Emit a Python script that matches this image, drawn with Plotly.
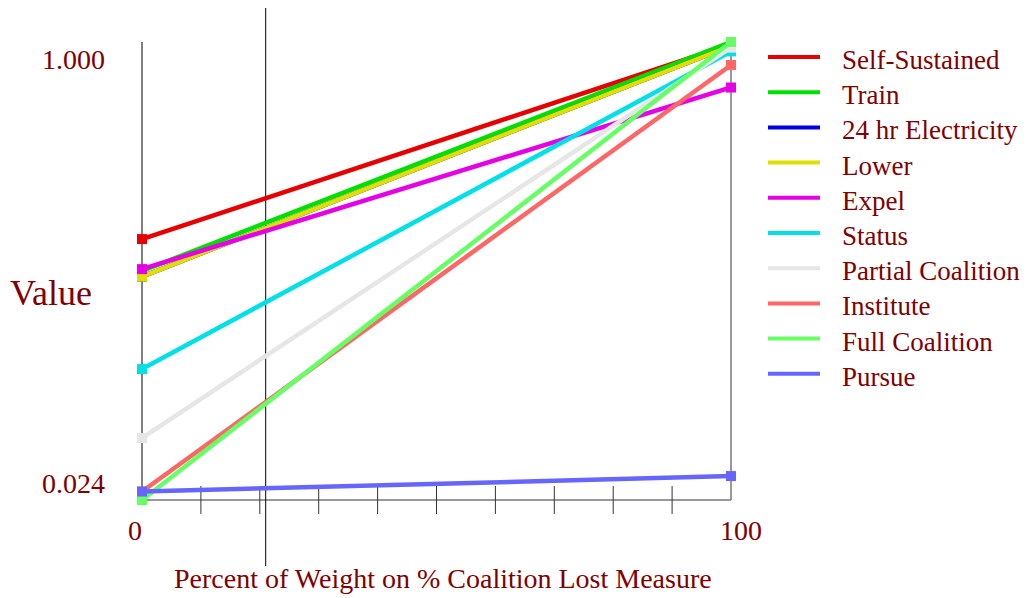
import plotly.graph_objects as go

# ---- data ----
series_names = ["Self-Sustained", "Train", "24 hr Electricity", "Lower", "Expel",
                "Status", "Partial Coalition", "Institute", "Full Coalition", "Pursue"]
x_values = [0, 100]
values_at_0 = [0.580, 0.512, 0.500, 0.500, 0.516, 0.303, 0.156, 0.042, 0.024, 0.042]
values_at_100 = [0.995, 1.000, 0.992, 0.992, 0.903, 0.980, 0.988, 0.951, 1.000, 0.075]
colors = ["#e60000", "#00e000", "#0000e6", "#e0e000", "#e600e6",
          "#00e0e6", "#e6e6e6", "#ff6666", "#66ff66", "#6666ff"]
y_tick_labels = ["1.000", "0.024"]
x_tick_labels = ["0", "100"]
x_minor_ticks = [10, 20, 30, 40, 50, 60, 70, 80, 90]
cursor_x = 21
y_min, y_max = 0.024, 1.000

# ---- layout geometry (page pixels) ----
W, H = 1030, 598
BODY = 8  # default body margin of the html page
L, R, T, B = 142, 731, 42, 500
TXT = "#800000"
FONT = "Liberation Serif"


def px(xp):
    return (xp - L) / (R - L)


def py(yp):
    return (B - yp) / (B - T)


fig = go.Figure()
for name, v0, v1, c in zip(series_names, values_at_0, values_at_100, colors):
    fig.add_trace(go.Scatter(
        x=x_values, y=[v0, v1], mode="lines+markers", name=name,
        line=dict(color=c, width=4.5),
        marker=dict(symbol="square", size=10, color=c),
        cliponaxis=False, showlegend=False,
    ))

shapes = []
shapes.append(dict(type="line", xref="paper", yref="paper", x0=0, x1=0, y0=0, y1=1,
                   line=dict(color="#000000", width=1), layer="below"))
shapes.append(dict(type="line", xref="paper", yref="paper", x0=0, x1=1, y0=0, y1=0,
                   line=dict(color="#777777", width=1.5), layer="below"))
shapes.append(dict(type="line", xref="paper", yref="paper", x0=1, x1=1, y0=0, y1=1,
                   line=dict(color="#777777", width=1.5), layer="below"))
for t in x_minor_ticks:
    shapes.append(dict(type="line", xref="x", yref="paper", x0=t, x1=t,
                       y0=py(486), y1=py(514),
                       line=dict(color="#333333", width=1), layer="below"))
shapes.append(dict(type="line", xref="x", yref="paper", x0=cursor_x, x1=cursor_x,
                   y0=py(8), y1=py(566), line=dict(color="#000000", width=1), layer="below"))

leg_y0, leg_dy = 57, 35.2
annotations = []
for i, (name, c) in enumerate(zip(series_names, colors)):
    yy = leg_y0 + i * leg_dy
    shapes.append(dict(type="line", xref="paper", yref="paper",
                       x0=px(768), x1=px(820), y0=py(yy), y1=py(yy),
                       line=dict(color=c, width=4)))
    annotations.append(dict(xref="paper", yref="paper", x=px(840), y=py(yy + 3),
                            text=name, showarrow=False, xanchor="left", yanchor="middle",
                            font=dict(family=FONT, size=27, color=TXT)))

annotations.append(dict(xref="paper", yref="paper", x=px(107), y=py(60), text=y_tick_labels[0],
                        showarrow=False, xanchor="right", yanchor="middle",
                        font=dict(family=FONT, size=28, color=TXT)))
annotations.append(dict(xref="paper", yref="paper", x=px(107), y=py(483), text=y_tick_labels[1],
                        showarrow=False, xanchor="right", yanchor="middle",
                        font=dict(family=FONT, size=28, color=TXT)))
annotations.append(dict(xref="paper", yref="paper", x=px(134.5), y=py(530), text=x_tick_labels[0],
                        showarrow=False, xanchor="center", yanchor="middle",
                        font=dict(family=FONT, size=28, color=TXT)))
annotations.append(dict(xref="paper", yref="paper", x=px(741), y=py(530), text=x_tick_labels[1],
                        showarrow=False, xanchor="center", yanchor="middle",
                        font=dict(family=FONT, size=28, color=TXT)))
annotations.append(dict(xref="paper", yref="paper", x=px(8), y=py(293), text="Value",
                        showarrow=False, xanchor="left", yanchor="middle",
                        font=dict(family=FONT, size=36, color=TXT)))
annotations.append(dict(xref="paper", yref="paper", x=px(443), y=py(578),
                        text="Percent of Weight on % Coalition Lost Measure",
                        showarrow=False, xanchor="center", yanchor="middle",
                        font=dict(family=FONT, size=28, color=TXT)))

fig.update_layout(
    width=W - BODY, height=H - BODY,
    margin=dict(l=L - BODY, r=W - R, t=T - BODY, b=H - B, pad=0),
    paper_bgcolor="white", plot_bgcolor="white",
    xaxis=dict(range=[0, 100], visible=False, fixedrange=True),
    yaxis=dict(range=[y_min, y_max], visible=False, fixedrange=True),
    shapes=shapes, annotations=annotations, showlegend=False,
)

fig.write_html("out.html")
